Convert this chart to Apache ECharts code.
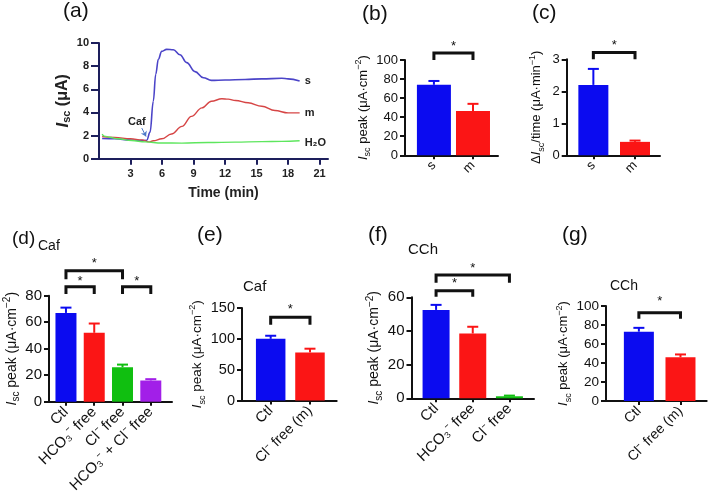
<!DOCTYPE html>
<html><head><meta charset="utf-8">
<script src="https://cdn.jsdelivr.net/npm/echarts@6/dist/echarts.min.js"></script>
<style>html,body{margin:0;padding:0;background:#fff}#c{width:709px;height:496px}</style>
</head><body><div id="c"></div>
<script>
// ---------- DATA ----------
// (a) Isc traces: [time (min), Isc (μA)]
const aTimeTicks = [3, 6, 9, 12, 15, 18, 21];
const aYTicks = [0, 2, 4, 6, 8, 10];
const traceS = [[0.3,1.75],[1.5,1.72],[3,1.62],[4.1,1.56],[4.55,1.6],[4.86,2.3],[5.17,4.97],[5.4,7.3],[5.65,8.6],[5.97,9.28],[6.44,9.45],[7.08,9.42],[7.71,8.98],[8.35,8.3],[9.14,7.53],[9.94,7.0],[10.7,6.77],[12,6.8],[13.9,6.85],[15.5,6.9],[17.4,6.95],[18,6.9],[19.1,6.72]];
const traceM = [[0.3,1.92],[1.5,1.83],[3,1.72],[4.1,1.63],[4.75,1.45],[5.17,1.55],[5.97,1.72],[6.9,2.13],[7.9,2.79],[8.8,3.66],[9.8,4.39],[10.7,4.97],[11.7,5.18],[12.3,5.15],[13,5.03],[14.2,4.83],[15.5,4.53],[16.75,4.16],[18,3.96],[19.1,3.96]];
const traceW = [[0.3,2.13],[0.5,1.95],[1.0,1.85],[1.8,1.72],[3.1,1.57],[4.4,1.45],[5.97,1.36],[7.9,1.35],[10.4,1.4],[12.95,1.43],[15.5,1.48],[17.4,1.5],[19.1,1.55]];
// (b)
const bCats = ['s', 'm'];
const bVals = [74, 46.5];
const bErr = [4, 7.5];
const bTicks = [0, 20, 40, 60, 80, 100];
// (c)
const cCats = ['s', 'm'];
const cVals = [2.2, 0.42];
const cErr = [0.5, 0.04];
const cTicks = [0, 1, 2, 3];
// (d)
const dCats = ['Ctl', 'HCO₃⁻ free', 'Cl⁻ free', 'HCO₃⁻ + Cl⁻ free'];
const dVals = [67, 52, 26, 16];
const dErr = [4, 7, 2, 1];
const dTicks = [0, 20, 40, 60, 80];
// (e)
const eCats = ['Ctl', 'Cl⁻ free (m)'];
const eVals = [100, 78];
const eErr = [5, 6];
const eTicks = [0, 50, 100, 150];
// (f)
const fCats = ['Ctl', 'HCO₃⁻ free', 'Cl⁻ free'];
const fVals = [52.5, 38.5, 1.2];
const fErr = [3, 4, 0.4];
const fTicks = [0, 20, 40, 60];
// (g)
const gCats = ['Ctl', 'Cl⁻ free (m)'];
const gVals = [73, 46];
const gErr = [4, 3];
const gTicks = [0, 20, 40, 60, 80, 100];

// ---------- STYLE ----------
const FONT = '"Liberation Sans", Arial, Helvetica, sans-serif';
const BLUE = '#0b0bf0', RED = '#fb1515', GREEN = '#10bf10', PURPLE = '#a21fe8';
const INK = '#111';

const peakName = '{i|I}{s|sc}{t| peak (μA·cm}{p|−2}{t|)}';
const rateName = '{t|Δ}{i|I}{s|sc}{t|/time (μA·min}{p|−1}{t|)}';
function nameRich(fs) {
  const sub = Math.round(fs * 0.7);
  return {
    t: {fontSize: fs, fontFamily: FONT, color: INK, lineHeight: fs + 5},
    i: {fontSize: fs, fontFamily: FONT, color: INK, fontStyle: 'italic', lineHeight: fs + 5},
    s: {fontSize: sub, fontFamily: FONT, color: INK, verticalAlign: 'bottom'},
    p: {fontSize: sub, fontFamily: FONT, color: INK, verticalAlign: 'top'}
  };
}

const panels = [
  {cats: bCats, vals: bVals, errs: bErr, ticks: bTicks, cols: [BLUE, RED], fs: 13, cfs: 13, nfs: 13,
   grid: {left: 405, top: 60, width: 93, height: 95.3}, xr: [-0.74, 1.64], barW: 34, name: peakName, gap: 28,
   brackets: [[0, 1, 107.3, 100, 114]]},
  {cats: cCats, vals: cVals, errs: cErr, ticks: cTicks, cols: [BLUE, RED], fs: 13, cfs: 13, nfs: 13,
   grid: {left: 566.7, top: 59.3, width: 93.3, height: 96}, xr: [-0.64, 1.6], barW: 30, name: rateName, gap: 21,
   brackets: [[0, 1, 3.21, 3.0, 3.44]]},
  {cats: dCats, vals: dVals, errs: dErr, ticks: dTicks, cols: [BLUE, RED, GREEN, PURPLE], fs: 15, cfs: 15, nfs: 14,
   grid: {left: 49, top: 295.7, width: 123, height: 106}, xr: [-0.6, 3.75], barW: 21, name: peakName, gap: 26,
   brackets: [[0, 2, 98.9, 92.4, 104.7], [0, 1, 86.8, 81.3, 90.8], [2, 3, 86.8, 81.3, 90.8]]},
  {cats: eCats, vals: eVals, errs: eErr, ticks: eTicks, cols: [BLUE, RED], fs: 14.5, cfs: 14.5, nfs: 13.5,
   grid: {left: 242, top: 308, width: 94.7, height: 92.5}, xr: [-0.73, 1.68], barW: 29.5, name: peakName, gap: 26,
   brackets: [[0, 1, 134.9, 123, 148]]},
  {cats: fCats, vals: fVals, errs: fErr, ticks: fTicks, cols: [BLUE, RED, GREEN], fs: 15, cfs: 15, nfs: 14,
   grid: {left: 411.5, top: 297.3, width: 122.5, height: 101}, xr: [-0.67, 2.67], barW: 27, name: peakName, gap: 22,
   brackets: [[0, 2, 73.2, 68.7, 77.4], [0, 1, 63.9, 60.4, 68.1]]},
  {cats: gCats, vals: gVals, errs: gErr, ticks: gTicks, cols: [BLUE, RED], fs: 13.5, cfs: 14, nfs: 13,
   grid: {left: 606, top: 306, width: 100.7, height: 95}, xr: [-0.79, 1.63], barW: 30, name: peakName, gap: 25,
   brackets: [[0, 1, 93, 86.6, 105]]}
];

const grids = [], xAxes = [], yAxes = [], series = [];

// ----- panel (a) -----
grids.push({left: 99, top: 43, width: 229, height: 115.7});
const NAVY = '#1d1f5c';
xAxes.push({type: 'value', gridIndex: 0, min: 0, max: 21.8,
  axisLine: {onZero: false, lineStyle: {color: NAVY, width: 2}},
  axisTick: {customValues: aTimeTicks, length: 6, lineStyle: {color: NAVY, width: 2}},
  axisLabel: {customValues: aTimeTicks, fontSize: 11, fontWeight: 'bold', color: '#222', fontFamily: FONT, margin: 10},
  splitLine: {show: false},
  name: 'Time (min)', nameLocation: 'middle', nameGap: 27,
  nameTextStyle: {fontSize: 14, fontWeight: 'bold', color: '#222', fontFamily: FONT, padding: [0, 0, 0, 20]}});
yAxes.push({type: 'value', gridIndex: 0, min: 0, max: 10,
  axisLine: {show: true, onZero: false, lineStyle: {color: NAVY, width: 2}},
  axisTick: {show: true, customValues: aYTicks, length: 8, lineStyle: {color: NAVY, width: 2}},
  axisLabel: {customValues: aYTicks, fontSize: 11, fontWeight: 'bold', color: '#222', fontFamily: FONT, margin: 10},
  splitLine: {show: false},
  name: '{i|I}{s|sc}{t| (μA)}', nameLocation: 'middle', nameGap: 21,
  nameTextStyle: {rich: {
    t: {fontSize: 16, fontWeight: 'bold', fontFamily: FONT, color: '#222', lineHeight: 20},
    i: {fontSize: 17, fontWeight: 'bold', fontStyle: 'italic', fontFamily: FONT, color: '#222', lineHeight: 20},
    s: {fontSize: 11, fontWeight: 'bold', fontFamily: FONT, color: '#222', verticalAlign: 'bottom'}
  }}});
const endLab = {show: true, formatter: '{a}', color: '#222', fontWeight: 'bold', fontSize: 11, fontFamily: FONT, distance: 5};
series.push({type: 'line', name: 's', xAxisIndex: 0, yAxisIndex: 0, data: traceS, showSymbol: false, symbol: 'none',
  smooth: 0.4, smoothMonotone: 'x', lineStyle: {color: '#4b44c8', width: 1.6}, itemStyle: {color: '#4b44c8'}, endLabel: endLab,
  markPoint: {symbol: 'circle', symbolSize: 1, itemStyle: {color: 'rgba(0,0,0,0)'},
    data: [{coord: [3.6, 3.2], label: {show: true, position: 'inside', formatter: 'Caf', color: '#222', fontWeight: 'bold', fontSize: 11, fontFamily: FONT}}]},
  markLine: {silent: true, symbol: ['none', 'arrow'], symbolSize: 5, label: {show: false},
    lineStyle: {color: '#4a78c8', width: 1, type: 'solid'},
    data: [[{coord: [4.07, 2.65]}, {coord: [4.48, 1.92]}]]}});
series.push({type: 'line', name: 'm', xAxisIndex: 0, yAxisIndex: 0, data: traceM, showSymbol: false, symbol: 'none',
  smooth: 0.4, smoothMonotone: 'x', lineStyle: {color: '#d64545', width: 1.4}, itemStyle: {color: '#d64545'}, endLabel: endLab});
series.push({type: 'line', name: 'H₂O', xAxisIndex: 0, yAxisIndex: 0, data: traceW, showSymbol: false, symbol: 'none',
  smooth: 0.4, smoothMonotone: 'x', lineStyle: {color: '#5ee65e', width: 1.4}, itemStyle: {color: '#5ee65e'},
  endLabel: Object.assign({}, endLab, {offset: [0, 2]})});

// ----- bar panels -----
panels.forEach((p, k) => {
  const gi = k + 1;
  grids.push(p.grid);
  const idx = p.cats.map((c, i) => i);
  xAxes.push({type: 'value', gridIndex: gi, min: p.xr[0], max: p.xr[1],
    axisLine: {onZero: false, lineStyle: {color: INK, width: 2}},
    axisTick: {customValues: idx, length: 4, lineStyle: {color: INK, width: 2}},
    axisLabel: {customValues: idx, rotate: 45, fontSize: p.cfs, color: INK, fontFamily: FONT, margin: 8,
      formatter: v => p.cats[Math.round(v)]},
    splitLine: {show: false}});
  yAxes.push({type: 'value', gridIndex: gi, min: 0, max: p.ticks[p.ticks.length - 1],
    axisLine: {show: true, onZero: false, lineStyle: {color: INK, width: 2}},
    axisTick: {show: true, customValues: p.ticks, length: 5, lineStyle: {color: INK, width: 2}},
    axisLabel: {customValues: p.ticks, fontSize: p.fs, color: INK, fontFamily: FONT, margin: 7},
    splitLine: {show: false},
    name: p.name, nameLocation: 'middle', nameGap: p.gap, nameTextStyle: {rich: nameRich(p.nfs)}});
  series.push({type: 'bar', xAxisIndex: gi, yAxisIndex: gi, barWidth: p.barW,
    data: p.vals.map((v, i) => ({value: [i, v], itemStyle: {color: p.cols[i]}}))});
  series.push({type: 'custom', xAxisIndex: gi, yAxisIndex: gi, clip: false, z: 1,
    data: p.vals.map((v, i) => [i, v, v + p.errs[i]]),
    renderItem: (params, api) => {
      const x = api.value(0);
      const a = api.coord([x, api.value(1)]), b = api.coord([x, api.value(2)]);
      const col = p.cols[params.dataIndex];
      const cap = 5.5;
      return {type: 'group', children: [
        {type: 'line', shape: {x1: a[0], y1: a[1], x2: b[0], y2: b[1]}, style: {stroke: col, lineWidth: 2}},
        {type: 'line', shape: {x1: b[0] - cap, y1: b[1], x2: b[0] + cap, y2: b[1]}, style: {stroke: col, lineWidth: 2}}
      ]};
    }});
  series.push({type: 'custom', xAxisIndex: gi, yAxisIndex: gi, clip: false, z: 3,
    data: p.brackets,
    renderItem: (params, api) => {
      const i1 = api.value(0), i2 = api.value(1);
      const a = api.coord([i1, api.value(2)]), b = api.coord([i2, api.value(2)]);
      const d = api.coord([i1, api.value(3)]);
      const s = api.coord([(i1 + i2) / 2, api.value(4)]);
      return {type: 'group', children: [
        {type: 'polyline', shape: {points: [[a[0], d[1]], [a[0], a[1]], [b[0], b[1]], [b[0], d[1]]]},
          style: {stroke: INK, lineWidth: 3, fill: null}},
        {type: 'text', x: s[0], y: s[1], style: {text: '*', fontSize: 13, fontFamily: FONT, fill: INK, align: 'center', verticalAlign: 'middle'}}
      ]};
    }});
});

// ----- panel letters & subtitles -----
const txt = (t, l, tp, fs) => ({type: 'text', left: l, top: tp, style: {text: t, fontSize: fs, fontFamily: FONT, fill: INK}});
const graphic = [
  txt('(a)', 63, 1, 21), txt('(b)', 362, 4, 21), txt('(c)', 532, 3, 21),
  txt('(d)', 12, 229, 19), txt('(e)', 197, 225, 21), txt('(f)', 368, 225, 21), txt('(g)', 562, 225, 21),
  txt('Caf', 38, 239, 14), txt('Caf', 243, 279, 15), txt('CCh', 408, 242, 15), txt('CCh', 610, 279, 14)
];

const chart = echarts.init(document.getElementById('c'), null, {renderer: 'canvas'});
chart.setOption({animation: false, backgroundColor: '#fff', grid: grids, xAxis: xAxes, yAxis: yAxes, series, graphic});
</script></body></html>
